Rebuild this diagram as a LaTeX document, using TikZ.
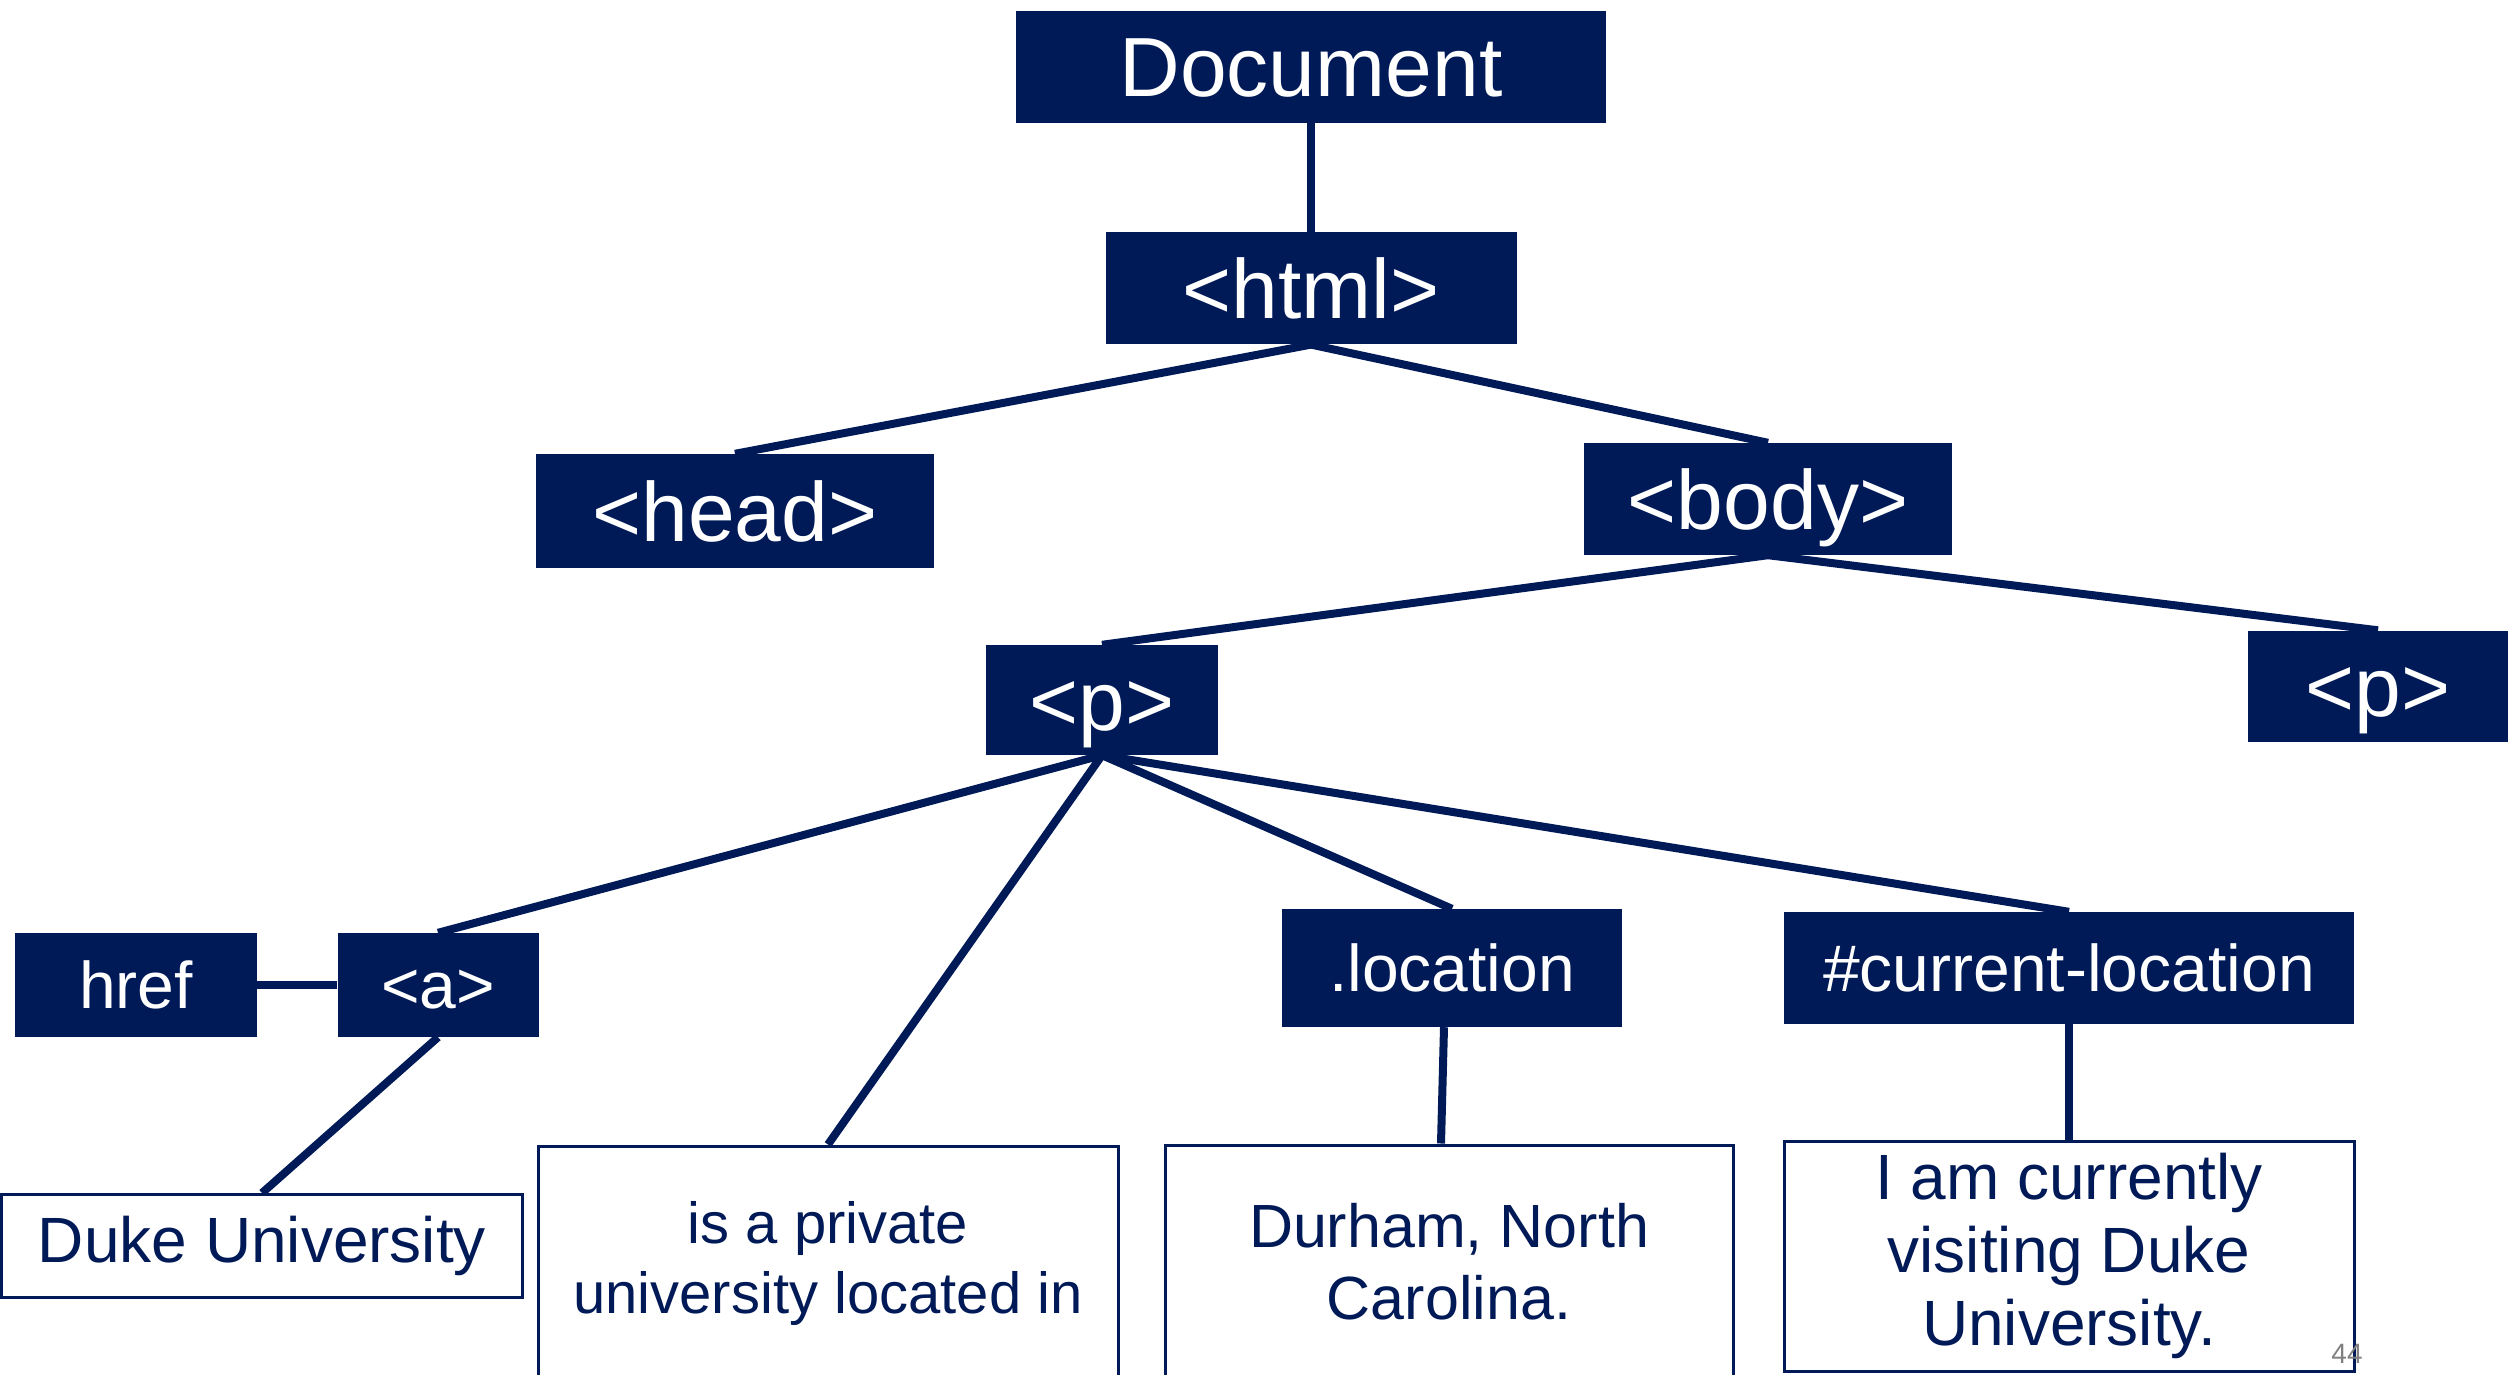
\documentclass[tikz,border=0pt]{standalone}
\usepackage{fontspec}
\setmainfont{Liberation Sans}
\usetikzlibrary{positioning}
\definecolor{DukeNavy}{HTML}{001A57}
\tikzset{
  tagbox/.style={fill=DukeNavy, text=white, inner sep=0pt,
    text height=60pt, text depth=0pt, font=\fontsize{84}{100}\selectfont},
  attrbox/.style={fill=DukeNavy, text=white, inner sep=0pt,
    text height=47pt, text depth=0pt, font=\fontsize{66}{80}\selectfont},
  textbox/.style={draw=DukeNavy, line width=3pt, fill=white, text=DukeNavy,
    align=center, inner sep=0pt, font=\fontsize{64}{73}\selectfont},
  link/.style={draw=DukeNavy, line width=8pt},
}

\begin{document}
\begin{tikzpicture}[x=1pt, y=-1pt]
    \useasboundingbox (0,0) rectangle (2509,1375);
    \clip (0,0) rectangle (2509,1375);
    % tree of tags
    \node[tagbox, minimum width=590pt, minimum height=112pt] (doc) at (1311,67) {Document};
    \node[tagbox, minimum width=411pt, minimum height=112pt, below=109pt of doc] (html) {<html>};
    \node[tagbox, minimum width=398pt, minimum height=114pt] (head) at (735,511) {<head>};
    \node[tagbox, minimum width=368pt, minimum height=112pt] (body) at (1768,499) {<body>};
    \node[tagbox, minimum width=232pt, minimum height=110pt] (p1) at (1102,700) {<p>};
    \node[tagbox, minimum width=260pt, minimum height=111pt] (p2) at (2378,686) {<p>};
    % attributes and selectors
    \node[attrbox, minimum width=201pt, minimum height=104pt] (a) at (438,985) {<a>};
    \node[attrbox, minimum width=242pt, minimum height=104pt, left=80pt of a] (href) {href};
    \node[attrbox, minimum width=340pt, minimum height=118pt] (loc) at (1452,968) {.location};
    \node[attrbox, minimum width=570pt, minimum height=112pt] (curloc) at (2069,968) {\#current-location};
    % text content
    \node[textbox, minimum width=521pt, minimum height=103pt] (duke) at (262,1246) {Duke University};
    \node[textbox, minimum width=580pt, minimum height=234pt, font=\fontsize{58}{70}\selectfont] (private) at (828,1263) {is a private\\university located in};
    \node[textbox, minimum width=568pt, minimum height=234pt, font=\fontsize{61}{72}\selectfont] (durham) at (1449,1262) {Durham, North\\Carolina.};
    \node[textbox, minimum width=570pt, minimum height=230pt] (visiting) at (2069,1256) {I am currently\\visiting Duke\\University.};
    \node[text=gray, font=\fontsize{28}{30}\selectfont] (pagenum) at (2347,1354) {44};
    % connectors
    \draw[link] (doc) -- (html);
    \draw[link] (html.south) -- (head.north);
    \draw[link] (html.south) -- (body.north);
    \draw[link] (body.south) -- (p1.north);
    \draw[link] (body.south) -- (p2.north);
    \draw[link] (p1.south) -- (a.north);
    \draw[link] (p1.south) -- (private.north);
    \draw[link] (p1.south) -- (loc.north);
    \draw[link] (p1.south) -- (curloc.north);
    \draw[link] (href) -- (a);
    \draw[link] (a.south) -- (duke.north);
    \draw[link] ([xshift=-8pt]loc.south) -- ([xshift=-8pt]durham.north);
    \draw[link] (curloc.south) -- (visiting.north);
\end{tikzpicture}
\end{document}
